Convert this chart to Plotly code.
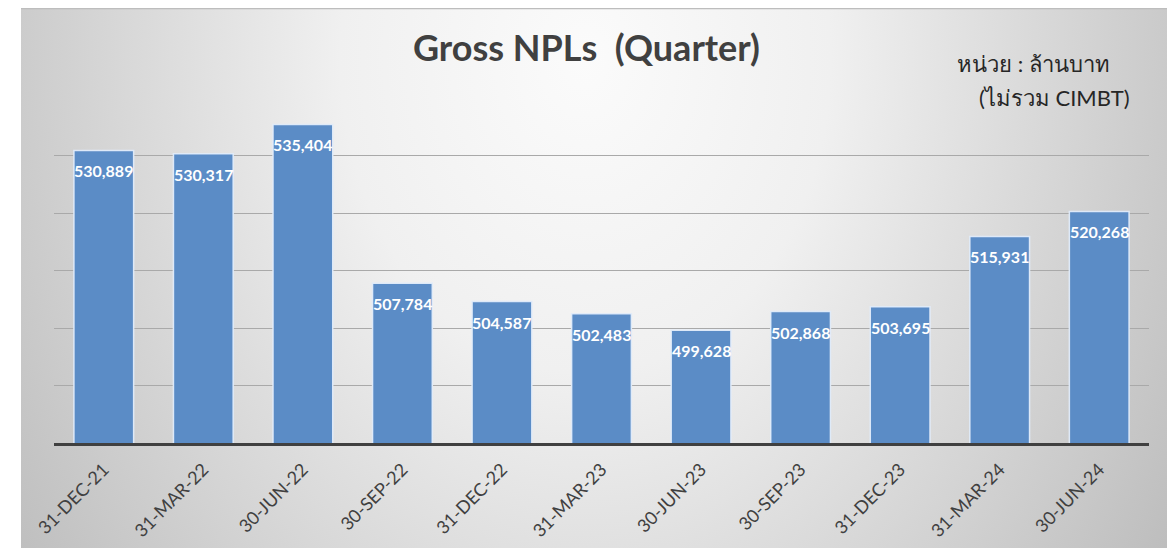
import base64
import plotly.graph_objects as go

categories = ["31-DEC-21", "31-MAR-22", "30-JUN-22", "30-SEP-22", "31-DEC-22", "31-MAR-23",
              "30-JUN-23", "30-SEP-23", "31-DEC-23", "31-MAR-24", "30-JUN-24"]
npl_values = [530889, 530317, 535404, 507784, 504587, 502483, 499628, 502868, 503695, 515931, 520268]
title_text = "Gross NPLs  (Quarter)"
unit_text = "หน่วย : ล้านบาท"
note_text = "(ไม่รวม CIMBT)"

# page has an 8px body margin: figure coords = page coords - 8
OFF = 8
W, H = 1175 - OFF, 548 - OFF


def px(x):
    return (x - OFF) / W


def py(y):
    return 1 - (y - OFF) / H


# chart area (page pixels)
cx0, cy0, cx1, cy1 = 21, 8, 1170, 548
cw, ch = cx1 - cx0, cy1 - cy0

svg = (
    f'<svg xmlns="http://www.w3.org/2000/svg" width="{cw}" height="{ch}" viewBox="0 0 {cw} {ch}" preserveAspectRatio="none">'
    '<defs><radialGradient id="g" gradientUnits="userSpaceOnUse" cx="0" cy="0" r="1" '
    f'gradientTransform="translate({cw/2 - 10} 50) scale(700 900)">'
    '<stop offset="0" stop-color="#fbfbfb"/><stop offset="0.35" stop-color="#f0f0f0"/>'
    '<stop offset="1" stop-color="#bdbdbd"/></radialGradient></defs>'
    f'<rect width="{cw}" height="{ch}" fill="url(#g)"/></svg>'
)
svg_uri = "data:image/svg+xml;base64," + base64.b64encode(svg.encode("utf-8")).decode("ascii")

fig = go.Figure()
fig.add_trace(go.Bar(
    x=categories, y=npl_values,
    marker=dict(color="#5b8cc6", line=dict(color="rgba(225,236,250,0.95)", width=1.5)),
    hoverinfo="x+y",
))

for c, v in zip(categories, npl_values):
    fig.add_annotation(
        x=c, y=v, xref="x", yref="y", text=f"{v:,}", showarrow=False,
        yanchor="top", yshift=-9,
        font=dict(family="Lato, 'Open Sans', sans-serif", size=16, color="white", weight="bold"),
    )

FONT = "Lato, 'Noto Sans', 'Open Sans', sans-serif"
fig.add_annotation(x=px(586), y=py(47), xref="paper", yref="paper", text=f"<b>{title_text}</b>",
                   showarrow=False, xanchor="center", yanchor="middle",
                   font=dict(family=FONT, size=36, color="#404040"))
fig.add_annotation(x=px(955), y=py(63), xref="paper", yref="paper", text=unit_text,
                   showarrow=False, xanchor="left", yanchor="middle",
                   font=dict(family=FONT, size=22, color="#262626"))
fig.add_annotation(x=px(977), y=py(98), xref="paper", yref="paper", text=note_text,
                   showarrow=False, xanchor="left", yanchor="middle",
                   font=dict(family=FONT, size=22, color="#262626"))

fig.add_layout_image(dict(source=svg_uri, xref="paper", yref="paper",
                          x=px(cx0), y=py(cy0), sizex=cw / W, sizey=ch / H,
                          xanchor="left", yanchor="top", sizing="stretch", layer="below"))
fig.add_shape(type="line", xref="paper", yref="paper", x0=px(cx0), x1=px(cx1),
              y0=py(cy0) - 0.001, y1=py(cy0) - 0.001, line=dict(color="#bdbdbd", width=1.5))

fig.update_layout(
    width=W, height=H,
    margin=dict(l=0, r=0, t=0, b=0, autoexpand=False),
    paper_bgcolor="white", plot_bgcolor="rgba(0,0,0,0)",
    bargap=0.4, showlegend=False,
    xaxis=dict(domain=[px(54), px(1149)], showline=True, linecolor="#404040", linewidth=3,
               automargin=False,
               tickangle=-45, ticks="outside", ticklen=6, tickcolor="rgba(0,0,0,0)",
               tickfont=dict(family=FONT, size=18, color="#404040"), showgrid=False),
    yaxis=dict(domain=[py(443), py(98)], range=[480000, 540000], dtick=10000,
               automargin=False,
               showticklabels=False, showgrid=True, gridcolor="#a9a9a9", gridwidth=1.3,
               zeroline=False, ticks=""),
)

fig.write_html("out.html")
